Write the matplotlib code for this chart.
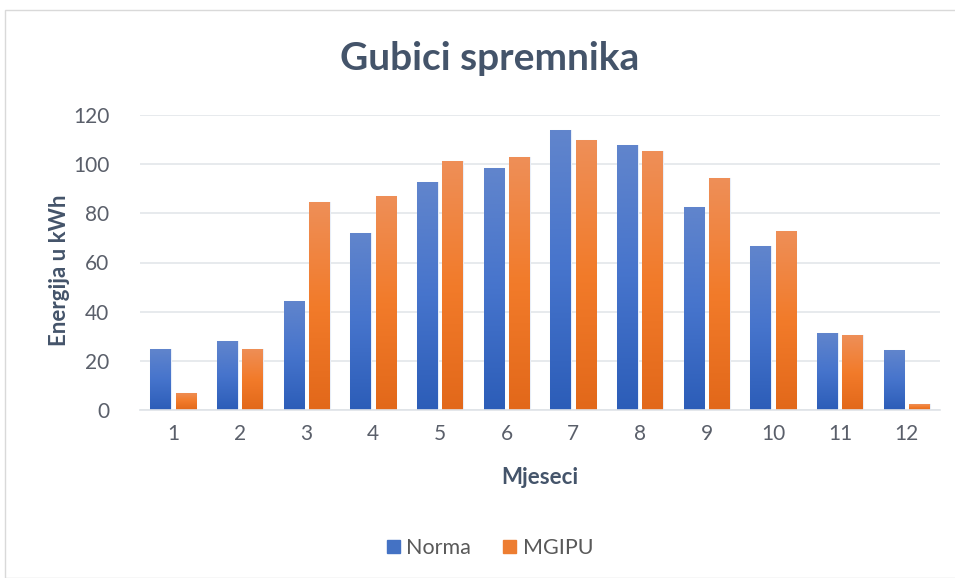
import numpy as np
import matplotlib
matplotlib.use("Agg")
import matplotlib.pyplot as plt
from matplotlib.patches import Rectangle, Patch
from matplotlib.colors import LinearSegmentedColormap

plt.rcParams['font.family'] = ['Lato', 'DejaVu Sans']

months = [str(i) for i in range(1, 13)]
norma = [25, 28, 44.5, 72, 92.7, 98.3, 113.8, 107.8, 82.7, 66.6, 31.5, 24.4]
mgipu = [7, 25, 84.7, 87.2, 101.4, 103.1, 109.7, 105.2, 94.4, 72.9, 30.5, 2.4]
series_names = ["Norma", "MGIPU"]
title = "Gubici spremnika"
xlabel = "Mjeseci"
ylabel = "Energija u kWh"

fig = plt.figure(figsize=(9.55, 5.78), dpi=100)
ax = fig.add_axes([140/955, 1 - 410/578, 800/955, 295/578])

# chart frame
fig.patches.append(Rectangle((5/955, 0), 1, 1 - 10/578, transform=fig.transFigure,
                             fill=False, edgecolor='#d9d9d9', linewidth=1.0))

x = np.arange(1, 13)
w = 0.31
off = 0.19
blue_cmap = LinearSegmentedColormap.from_list('b', ['#2c5db8', '#4674cc', '#6185cc'])
orange_cmap = LinearSegmentedColormap.from_list('o', ['#e2681a', '#f27b2a', '#ee8f58'])
grad = np.linspace(0, 1, 256).reshape(-1, 1)

for vals, dx, cmap, col in [(norma, -off, blue_cmap, '#4472c4'), (mgipu, off, orange_cmap, '#ed7d31')]:
    bars = ax.bar(x + dx, vals, width=w, color=col, edgecolor='#e8eef8', linewidth=0.8, zorder=2)
    for b in bars:
        x0, y0 = b.get_x(), b.get_y()
        im = ax.imshow(grad, cmap=cmap, aspect='auto', origin='lower',
                       extent=[x0, x0 + b.get_width(), y0, y0 + b.get_height()], zorder=2.5)
        im.set_clip_path(b)

ax.set_xlim(0.5, 12.5)
ax.set_ylim(0, 120)
ax.set_yticks(np.arange(0, 121, 20))
ax.set_xticks(x)
ax.set_xticklabels(months)
ax.grid(axis='y', color='#e3e6ea', linewidth=1.2, zorder=0)
ax.set_axisbelow(True)
for s in ['top', 'right', 'left']:
    ax.spines[s].set_visible(False)
ax.spines['bottom'].set_color('#dfe3e8')
ax.spines['bottom'].set_linewidth(1.2)
ax.tick_params(length=0, labelsize=15, colors='#595959', pad=10)
ax.tick_params(axis='y', pad=22)
for lbl in ax.get_xticklabels() + ax.get_yticklabels():
    lbl.set_color('#5a5f6a')

fig.text(490/955, 1 - 58/578, title, ha='center', va='center', fontsize=28,
         fontweight='bold', color='#44546a')
fig.text(540/955, 1 - 478/578, xlabel, ha='center', va='center', fontsize=16,
         fontweight='bold', color='#44546a')
fig.text(60/955, 1 - 270/578, ylabel, ha='center', va='center', fontsize=16,
         fontweight='bold', color='#44546a', rotation=90)

handles = [Patch(color='#4472c4'), Patch(color='#ed7d31')]
fig.legend(handles, series_names, loc='center', bbox_to_anchor=(490/955, 1 - 548/578),
           ncol=2, frameon=False, fontsize=15.5, handlelength=0.6, handleheight=0.6,
           handletextpad=0.3, columnspacing=1.5, labelcolor='#595959')

fig.savefig('out.png', dpi=100)
